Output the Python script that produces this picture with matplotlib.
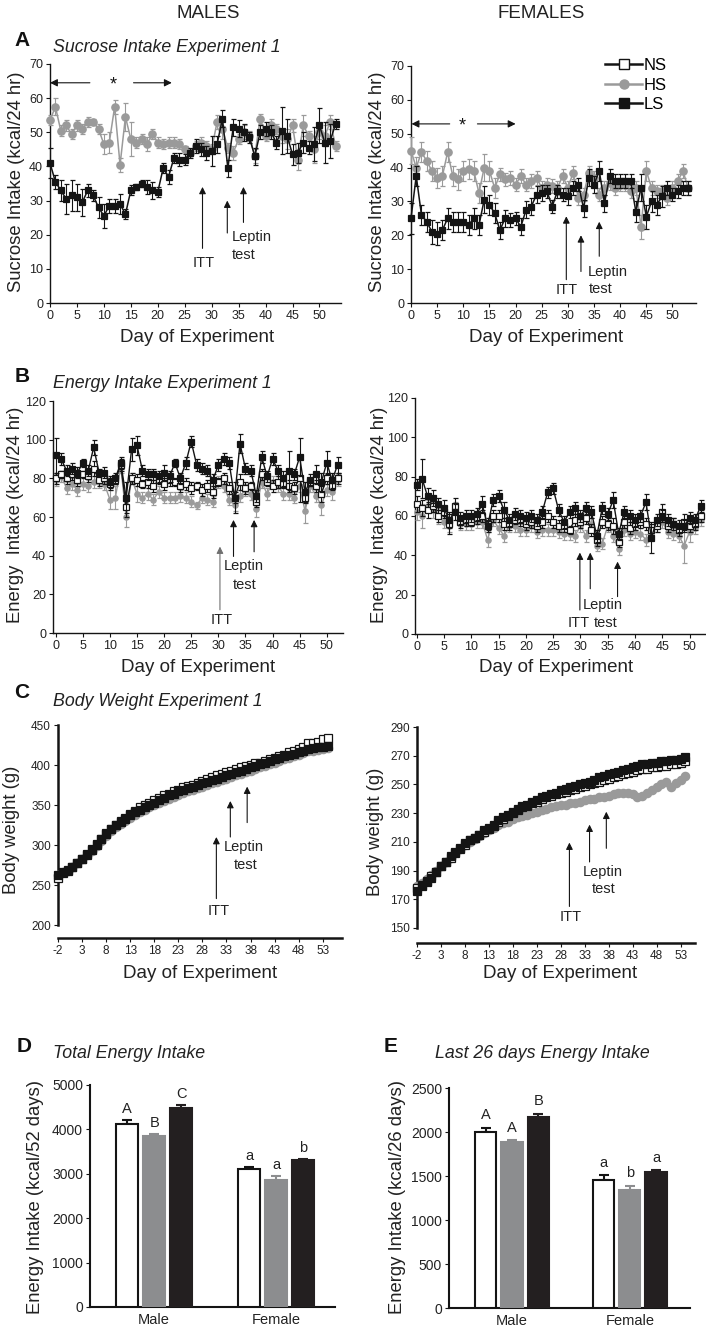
import matplotlib
matplotlib.use("Agg")
import matplotlib.pyplot as plt
from matplotlib.lines import Line2D
import numpy as np

plt.rcParams['font.family'] = ['Liberation Sans', 'DejaVu Sans']
plt.rcParams['axes.unicode_minus'] = False

W, H = 706, 1331
GRAY = '#9a9a9a'
BARGRAY = '#8c8d8f'
BLACK = '#141414'
TXT = '#222222'

# ---------------- data ----------------
# A: sucrose intake (kcal/24 hr), days 0..53
days_a = np.arange(0, 54)
suc_m_hs = [53.5, 57.5, 50.5, 52, 49.5, 52, 51, 53, 53, 51,
            46.5, 47, 57.5, 40.5, 54.5, 48, 47, 48, 46.5, 49.5,
            47, 46.5, 47, 47, 46.5, 45, 44, 46, 47, 46,
            45, 53, 51, 45.5, 44, 48, 50, 49, 43, 54,
            49, 52, 51, 49, 48, 52, 42, 52, 49, 45,
            50, 49, 53, 46]
suc_m_hs_err = [1.5, 2.5, 1.5, 1.5, 1.5, 1.5, 1.5, 1.5, 1, 1.5,
                3, 3, 2, 2, 4, 5, 1.5, 1.5, 2, 1.5,
                1.5, 1.5, 1.5, 1.5, 1.5, 1, 1, 1.5, 1.5, 1.5,
                1.5, 2, 3, 1.5, 2, 1.5, 2, 1.5, 2, 1.5,
                1.5, 2, 1.5, 2, 3, 2, 3, 3, 1.5, 4,
                2, 3, 2, 1.5]
suc_m_ls = [41, 35.5, 33, 30.5, 31.5, 31, 29.5, 33, 31.5, 28,
            25.5, 28.5, 28.5, 29, 26, 33, 34, 35, 34, 33,
            32.5, 39.5, 37, 42.5, 42, 42, 44, 46, 45, 44,
            44.5, 46.5, 54, 39.5, 51.5, 51, 50, 48.5, 43, 50,
            51, 50, 47, 50.5, 49, 43.5, 44, 47, 45.5, 46.5,
            52, 47, 47.5, 52.5]
suc_m_ls_err = [4.5, 2, 3, 4.5, 4.5, 4, 4, 2, 1.5, 3,
                3.5, 2, 2, 3, 1.5, 1.5, 1, 1, 2, 2.5,
                1.5, 1.5, 2, 1.5, 2, 1.5, 1.5, 2, 2, 2,
                4.5, 2.5, 2.5, 2.5, 2.5, 2.5, 2.5, 1.5, 2.5, 2,
                2, 2, 2, 7, 5, 3, 3, 3, 2, 5,
                5, 6, 5, 1.5]
suc_f_hs = [45, 40, 44.5, 42, 39, 37, 37.5, 44.5, 37.5, 36.5,
            39, 39.5, 39, 32.5, 40, 39, 34, 38, 36.5, 37,
            35, 37.5, 35, 36, 37, 34, 35, 34.5, 34, 37.5,
            34, 38.5, 31, 32, 38.5, 37, 32, 34, 35.5, 34,
            35, 35, 33, 34, 22.5, 39, 34, 33, 33, 31,
            34, 36, 39, 34]
suc_f_hs_err = [4, 3, 3, 3, 3, 3, 3, 3, 3, 3,
                3, 3, 3, 3, 4, 3, 3, 2, 2, 2,
                2, 2, 2, 2, 2, 2, 2, 2, 2, 2,
                2, 2, 2, 2, 2, 2, 2, 2, 2, 2,
                2, 2, 2, 2, 3.5, 3, 2, 2, 2, 2,
                2, 2, 2, 2]
suc_f_ls = [25, 37.5, 26, 24, 21, 20.5, 21.5, 25, 24, 24,
            24, 23, 25, 23, 30.5, 29, 26.5, 21.5, 25, 24.5,
            25, 22.5, 27.5, 28.5, 32, 32.5, 33, 28.5, 33, 32,
            31.5, 34, 35, 28, 37, 35, 39, 29.5, 37.5, 36,
            36, 36, 36, 27, 34, 25.5, 30, 29, 31.5, 34,
            32, 33, 34, 34]
suc_f_ls_err = [4.5, 3, 3, 3, 3.5, 3.5, 3, 3, 3, 3,
                3, 3, 3, 3, 4, 3, 3, 2.5, 2.5, 2,
                2, 2.5, 2.5, 2.5, 2.5, 2.5, 2, 2, 2, 2,
                2.5, 2, 2, 2.5, 2.5, 2.5, 3, 2.5, 2, 2,
                2, 2, 2, 3, 4, 3.5, 3, 3, 3, 2,
                2, 2, 2, 2]

# B: energy intake (kcal/24 hr), days 0..52
days_b = np.arange(0, 53)
en_m_ls = [92, 90, 84, 85, 83, 88, 84, 96, 83, 83,
           78, 80, 88, 70, 95, 97, 84, 82, 82, 81,
           83, 81, 88, 80, 88, 99, 87, 85, 84, 79,
           87, 90, 88, 70, 98, 85, 84, 71, 91, 81,
           90, 84, 80, 84, 82, 91, 73, 79, 82, 78,
           88, 79, 87]
en_m_ls_err = [9, 3, 3, 3, 3, 2, 3, 4, 2, 3,
               3, 3, 3, 8, 6, 5, 3, 3, 3, 3,
               4, 3, 2, 3, 3, 3, 3, 3, 3, 3,
               3, 3, 3, 8, 5, 3, 3, 3, 3, 3,
               3, 3, 4, 10, 3, 10, 5, 3, 5, 5,
               6, 4, 4]
en_m_ns = [80, 82, 80, 82, 79, 82, 81, 85, 79, 80,
           77, 79, 87, 65, 80, 79, 77, 78, 76, 79,
           77, 79, 78, 76, 77, 75, 76, 74, 76, 73,
           78, 80, 75, 70, 78, 75, 76, 68, 82, 78,
           76, 78, 77, 76, 75, 80, 70, 78, 76, 72,
           80, 76, 80]
en_m_ns_err = [3, 2, 3, 3, 3, 2, 3, 4, 3, 3,
               3, 2, 3, 5, 3, 3, 2, 3, 3, 2,
               3, 3, 2, 3, 3, 3, 2, 3, 3, 3,
               2, 3, 3, 3, 4, 3, 2, 3, 3, 2,
               3, 3, 2, 3, 3, 12, 3, 2, 3, 4,
               3, 2, 3]
en_m_hs = [79, 81, 75, 77, 74, 77, 76, 78, 78, 77,
           69, 70, 86, 60, 80, 72, 70, 72, 69, 73,
           70, 70, 70, 71, 70, 68, 66, 70, 69, 68,
           78, 76, 69, 66, 71, 74, 72, 64, 78, 72,
           78, 76, 72, 72, 70, 76, 63, 76, 71, 66,
           74, 73, 79]
en_m_hs_err = [3, 3, 3, 3, 3, 3, 3, 3, 3, 3,
               5, 6, 3, 5, 3, 4, 3, 3, 3, 3,
               3, 3, 3, 3, 3, 3, 2, 3, 3, 3,
               3, 3, 3, 3, 3, 3, 3, 4, 3, 3,
               3, 3, 3, 3, 3, 3, 6, 3, 3, 5,
               3, 4, 3]
en_f_ls = [76, 79, 70, 69, 66, 64, 58, 62, 59, 60,
           60, 61, 66, 55, 68, 70, 63, 58, 61, 60,
           59, 60, 58, 62, 72, 74, 63, 57, 62, 64,
           60, 64, 62, 50, 64, 61, 68, 51, 62, 60,
           58, 60, 67, 49, 58, 60, 58, 56, 55, 55,
           59, 58, 65]
en_f_ls_err = [3, 10, 4, 4, 3, 4, 4, 4, 3, 3,
               3, 3, 4, 3, 3, 3, 4, 3, 3, 3,
               3, 3, 3, 3, 3, 3, 3, 3, 3, 3,
               3, 3, 3, 3, 3, 3, 4, 3, 3, 3,
               3, 3, 4, 8, 3, 3, 3, 3, 3, 3,
               3, 3, 3]
en_f_ns = [66, 64, 63, 65, 60, 62, 56, 65, 57, 58,
           57, 59, 60, 56, 60, 60, 56, 56, 58, 58,
           56, 57, 55, 57, 60, 57, 55, 55, 53, 58,
           57, 59, 53, 48, 57, 56, 55, 47, 57, 54,
           56, 57, 56, 53, 55, 62, 55, 56, 53, 57,
           55, 56, 60]
en_f_ns_err = [4, 4, 4, 3, 3, 3, 5, 4, 3, 3,
               2, 3, 3, 3, 3, 3, 3, 3, 2, 3,
               3, 3, 3, 3, 3, 3, 3, 3, 2, 3,
               3, 3, 3, 3, 3, 3, 4, 3, 3, 3,
               3, 3, 3, 3, 3, 4, 3, 3, 3, 4,
               3, 3, 3]
en_f_hs = [62, 60, 65, 63, 60, 57, 55, 64, 56, 56,
           56, 57, 57, 48, 58, 54, 50, 55, 55, 53,
           53, 55, 52, 53, 53, 53, 52, 51, 51, 50,
           55, 50, 56, 45, 46, 55, 50, 43, 53, 51,
           52, 51, 48, 51, 55, 57, 52, 51, 50, 45,
           52, 54, 58]
en_f_hs_err = [4, 6, 3, 4, 4, 3, 3, 3, 3, 3,
               3, 3, 3, 4, 3, 3, 3, 3, 3, 3,
               3, 3, 3, 3, 3, 3, 3, 3, 3, 3,
               3, 3, 3, 3, 3, 3, 3, 3, 3, 3,
               3, 3, 3, 3, 3, 3, 3, 3, 3, 9,
               5, 3, 3]

# C: body weight (g), days -2..54
days_c = np.arange(-2, 55)
bw_m_ls = [262, 266, 269, 273, 278, 283, 289, 295, 301, 308,
           315, 320, 325, 329, 333, 338, 341, 344, 347, 350,
           353, 356, 359, 362, 364, 367, 369, 371, 373, 375,
           377, 379, 381, 383, 385, 387, 389, 391, 393, 395,
           397, 399, 401, 403, 405, 407, 409, 411, 413, 414,
           416, 418, 420, 421, 422, 423, 424]
bw_m_ns = [259, 265, 268, 272, 277, 282, 288, 294, 300, 307,
           314, 320, 325, 330, 334, 339, 343, 347, 350, 353,
           356, 359, 362, 364, 367, 369, 372, 374, 375, 378,
           380, 383, 385, 387, 389, 391, 393, 395, 397, 399,
           400, 402, 403, 405, 407, 409, 411, 413, 416, 418,
           420, 423, 428, 427, 429, 432, 434]
bw_m_hs = [263, 266, 268, 272, 277, 282, 287, 293, 299, 305,
           311, 317, 322, 326, 330, 334, 338, 341, 344, 347,
           350, 353, 355, 358, 360, 362, 365, 367, 369, 371,
           373, 375, 377, 379, 381, 383, 385, 387, 389, 391,
           393, 395, 397, 399, 401, 403, 405, 407, 409, 411,
           413, 415, 417, 418, 419, 420, 421]
bw_f_ls = [176, 179, 182, 185, 189, 193, 196, 200, 203, 206,
           209, 211, 213, 215, 218, 220, 222, 225, 227, 229,
           231, 233, 235, 236, 238, 239, 241, 242, 243, 244,
           246, 247, 248, 249, 250, 251, 252, 253, 255, 256,
           257, 258, 259, 260, 261, 262, 263, 264, 264, 265,
           265, 266, 266, 267, 267, 268, 269]
bw_f_ns = [178, 180, 183, 186, 189, 193, 196, 199, 202, 205,
           208, 211, 213, 215, 217, 219, 221, 224, 226, 228,
           230, 232, 234, 235, 237, 238, 240, 241, 242, 243,
           244, 245, 246, 247, 248, 249, 250, 251, 252, 253,
           254, 255, 256, 257, 258, 259, 260, 261, 261, 262,
           262, 263, 263, 264, 264, 265, 266]
bw_f_hs = [179, 181, 184, 187, 190, 193, 196, 199, 202, 205,
           208, 210, 212, 214, 216, 218, 220, 222, 223, 224,
           226, 227, 228, 229, 230, 231, 232, 233, 234, 235,
           236, 236, 237, 237, 238, 239, 240, 240, 241, 241,
           242, 243, 244, 244, 244, 243, 241, 242, 244, 246,
           248, 250, 252, 248, 251, 253, 256]

# D / E: bar charts
groups = ['Male', 'Female']
total_ns = [4130, 3100]
total_hs = [3860, 2850]
total_ls = [4480, 3300]
total_ns_err = [80, 60]
total_hs_err = [40, 90]
total_ls_err = [60, 40]
total_letters = [['A', 'B', 'C'], ['a', 'a', 'b']]
last_ns = [2000, 1460]
last_hs = [1890, 1340]
last_ls = [2170, 1550]
last_ns_err = [50, 50]
last_hs_err = [20, 50]
last_ls_err = [40, 20]
last_letters = [['A', 'A', 'B'], ['a', 'b', 'a']]

# ---------------- figure ----------------
fig = plt.figure(figsize=(W / 100, H / 100), dpi=100)


def ax_px(l, t, r, b):
    return fig.add_axes([l / W, 1 - b / H, (r - l) / W, (b - t) / H])


def ftxt(x, y, s, **kw):
    kw.setdefault('color', TXT)
    fig.text(x / W, 1 - y / H, s, **kw)


def style(ax, lw=1.0, tsize=9):
    for s in ['top', 'right']:
        ax.spines[s].set_visible(False)
    for s in ['left', 'bottom']:
        ax.spines[s].set_linewidth(lw)
        ax.spines[s].set_color(BLACK)
    ax.tick_params(direction='out', length=3, width=0.8, labelsize=tsize,
                   labelcolor=TXT, color=BLACK, pad=2)


STY = {
    'NS': dict(marker='s', color=BLACK, mfc='white', mec=BLACK),
    'HS': dict(marker='o', color=GRAY, mfc=GRAY, mec=GRAY),
    'LS': dict(marker='s', color=BLACK, mfc=BLACK, mec=BLACK),
}


def series(ax, x, y, err, kind, ms, lw, z):
    st = STY[kind]
    ax.errorbar(x, y, yerr=err, color=st['color'], ecolor=st['color'],
                elinewidth=0.8, capsize=1.8, capthick=0.8, marker=st['marker'],
                ms=ms, mfc=st['mfc'], mec=st['mec'], mew=0.9, lw=lw,
                clip_on=False, zorder=z)


def arrow(ax, x, y0, y1, color=BLACK):
    ax.annotate('', xy=(x, y1), xytext=(x, y0),
                arrowprops=dict(arrowstyle='-|>', color=color, lw=0.8,
                                mutation_scale=10, shrinkA=0, shrinkB=0),
                annotation_clip=False, zorder=6)


def harrow(ax, x0, x1, y):
    ax.annotate('', xy=(x1, y), xytext=(x0, y),
                arrowprops=dict(arrowstyle='-|>', color=BLACK, lw=0.8,
                                mutation_scale=11, shrinkA=0, shrinkB=0),
                annotation_clip=False)


def ann(ax, x, y, s, ha='center'):
    ax.text(x, y, s, fontsize=10.5, color=TXT, ha=ha, va='center', zorder=6)


# ---- A male ----
ax = ax_px(50, 64, 341, 303)
style(ax)
series(ax, days_a, suc_m_hs, suc_m_hs_err, 'HS', 5.3, 1.1, 3)
series(ax, days_a, suc_m_ls, suc_m_ls_err, 'LS', 4.8, 1.1, 4)
ax.set_xlim(0, 54)
ax.set_ylim(0, 70)
ax.set_xticks(range(0, 51, 5))
ax.set_yticks(range(0, 71, 10))
harrow(ax, 7.4, 0, 64.5)
harrow(ax, 15.5, 22.6, 64.5)
ax.text(11.8, 64.0, '*', fontsize=13, ha='center', va='center', color=BLACK)
arrow(ax, 28.3, 16, 34)
arrow(ax, 32.9, 20.5, 30)
arrow(ax, 35.9, 23.6, 34)
ann(ax, 28.6, 11.7, 'ITT')
ann(ax, 33.8, 19.3, 'Leptin', ha='left')
ann(ax, 33.8, 14.2, 'test', ha='left')

# ---- A female ----
ax = ax_px(411, 66, 696, 303)
style(ax)
series(ax, days_a, suc_f_hs, suc_f_hs_err, 'HS', 5.3, 1.1, 3)
series(ax, days_a, suc_f_ls, suc_f_ls_err, 'LS', 4.8, 1.1, 4)
ax.set_xlim(0, 54.5)
ax.set_ylim(0, 70)
ax.set_xticks(range(0, 51, 5))
ax.set_yticks(range(0, 71, 10))
harrow(ax, 7.4, 0.1, 52.9)
harrow(ax, 12.7, 20, 52.9)
ax.text(9.8, 52.4, '*', fontsize=13, ha='center', va='center', color=BLACK)
arrow(ax, 29.7, 6.9, 25.6)
arrow(ax, 32.5, 9.3, 20)
arrow(ax, 36, 13.8, 24)
ann(ax, 29.7, 3.9, 'ITT')
ann(ax, 33.8, 9.3, 'Leptin', ha='left')
ann(ax, 33.9, 4.1, 'test', ha='left')

handles = [Line2D([0], [0], lw=1.8, ms=6.5, mew=1, **STY[k]) for k in ['NS', 'HS', 'LS']]
fig.legend(handles, ['NS', 'HS', 'LS'], loc='upper left',
           bbox_to_anchor=(597 / W, 1 - 50 / H), frameon=False, fontsize=12,
           handlelength=2.2, handletextpad=0.1, labelspacing=0.25, borderpad=0)

# ---- B male ----
ax = ax_px(53, 401, 343, 633)
style(ax)
series(ax, days_b, en_m_hs, en_m_hs_err, 'HS', 3.8, 1.0, 3)
series(ax, days_b, en_m_ns, en_m_ns_err, 'NS', 3.8, 1.0, 4)
series(ax, days_b, en_m_ls, en_m_ls_err, 'LS', 3.8, 1.0, 5)
ax.set_xlim(-0.5, 53)
ax.set_ylim(0, 120)
ax.set_xticks(range(0, 51, 5))
ax.set_yticks(range(0, 121, 20))
arrow(ax, 30.3, 12, 44.7, color='#707070')
arrow(ax, 32.8, 39.6, 58.5)
arrow(ax, 36.6, 42, 58.5)
ann(ax, 30.6, 6.9, 'ITT')
ann(ax, 34.7, 34.4, 'Leptin')
ann(ax, 34.8, 25, 'test')

# ---- B female ----
ax = ax_px(415, 398, 706, 634)
style(ax)
series(ax, days_b, en_f_hs, en_f_hs_err, 'HS', 3.8, 1.0, 3)
series(ax, days_b, en_f_ns, en_f_ns_err, 'NS', 3.8, 1.0, 4)
series(ax, days_b, en_f_ls, en_f_ls_err, 'LS', 3.8, 1.0, 5)
ax.set_xlim(-0.3, 53)
ax.set_ylim(0, 120)
ax.set_xticks(range(0, 51, 5))
ax.set_yticks(range(0, 121, 20))
arrow(ax, 29.9, 12.2, 41.4)
arrow(ax, 31.8, 23, 41.4)
arrow(ax, 36.8, 19, 36.8)
ann(ax, 29.6, 5.4, 'ITT')
ann(ax, 34.1, 14.8, 'Leptin')
ann(ax, 34.6, 5.4, 'test')

# ---- C male ----
ax = ax_px(58, 725, 342, 925)
style(ax, lw=1.8, tsize=8.5)
ax.spines['bottom'].set_position(('outward', 9.5))
series(ax, days_c, bw_m_hs, None, 'HS', 6, 1.2, 3)
series(ax, days_c, bw_m_ns, None, 'NS', 6, 1.2, 4)
series(ax, days_c, bw_m_ls, None, 'LS', 6, 1.2, 5)
ax.set_xlim(-2, 57)
ax.set_ylim(200, 450)
ax.set_xticks(range(-2, 54, 5))
ax.set_yticks(range(200, 451, 50))
arrow(ax, 30.9, 233, 310)
arrow(ax, 33.8, 310, 355)
arrow(ax, 37.3, 328, 373)
ann(ax, 31.4, 218, 'ITT')
ann(ax, 36.6, 298, 'Leptin')
ann(ax, 36.9, 275, 'test')

# ---- C female ----
ax = ax_px(417, 727, 695, 928)
style(ax, lw=1.8, tsize=8.5)
ax.spines['bottom'].set_position(('outward', 10.5))
series(ax, days_c, bw_f_hs, None, 'HS', 6, 1.2, 3)
series(ax, days_c, bw_f_ns, None, 'NS', 6, 1.2, 4)
series(ax, days_c, bw_f_ls, None, 'LS', 6, 1.2, 5)
ax.set_xlim(-2, 56)
ax.set_ylim(150, 290)
ax.set_xticks(range(-2, 54, 5))
ax.set_yticks(range(150, 291, 20))
arrow(ax, 29.8, 165, 209.5)
arrow(ax, 34, 196, 222)
arrow(ax, 37.5, 205.5, 231)
ann(ax, 30, 158, 'ITT')
ann(ax, 36.8, 189, 'Leptin')
ann(ax, 37, 177, 'test')


# ---- bars ----
def bars(ax, ns, hs, ls, ns_e, hs_e, ls_e, letters, ymax, off):
    x = np.arange(len(groups))
    wd, dx = 0.18, 0.222
    specs = [(ns, ns_e, 'white', BLACK, -dx),
             (hs, hs_e, BARGRAY, BARGRAY, 0),
             (ls, ls_e, '#231f20', '#231f20', dx)]
    for i, (vals, errs, fc, ec, o) in enumerate(specs):
        ax.bar(x + o, vals, wd, color=fc, edgecolor=ec, lw=1.5, zorder=3)
        ax.errorbar(x + o, vals, yerr=[np.zeros(len(errs)), errs], fmt='none',
                    ecolor=ec, elinewidth=1.5, capsize=3.5, capthick=1.5, zorder=2)
        for j in range(len(groups)):
            ax.text(x[j] + o, vals[j] + errs[j] + off, letters[j][i], fontsize=10.5,
                    ha='center', va='bottom', color=TXT)
    style(ax, lw=1.5, tsize=10)
    ax.set_ylim(0, ymax)
    ax.set_xticks(x)
    ax.set_xticklabels(groups, fontsize=10.5)
    ax.tick_params(axis='x', length=0, pad=4)


ax = ax_px(90, 1085, 335, 1307)
bars(ax, total_ns, total_hs, total_ls, total_ns_err, total_hs_err, total_ls_err,
     total_letters, 5000, 90)
ax.set_xlim(-0.525, 1.48)
ax.set_yticks(range(0, 5001, 1000))

ax = ax_px(449, 1088, 690, 1308)
bars(ax, last_ns, last_hs, last_ls, last_ns_err, last_hs_err, last_ls_err,
     last_letters, 2500, 60)
ax.set_xlim(-0.534, 1.51)
ax.set_yticks(range(0, 2501, 500))

# ---------------- text ----------------
ftxt(208, 13, 'MALES', fontsize=13.5, ha='center', va='center')
ftxt(541, 13, 'FEMALES', fontsize=13.5, ha='center', va='center')

for lab, (x, y) in zip('ABCDE', [(22, 41), (22, 377), (22, 693), (24, 1047), (391, 1046)]):
    ftxt(x, y, lab, fontsize=15, fontweight='bold', ha='center', va='center', color='#111111')

ttl = dict(fontsize=12.8, style='italic', ha='left', va='center')
ftxt(53, 47, 'Sucrose Intake Experiment 1', **ttl)
ftxt(53, 383, 'Energy Intake Experiment 1', **ttl)
ftxt(53, 702, 'Body Weight Experiment 1', **ttl)
ftxt(53, 1053, 'Total Energy Intake', **ttl)
ftxt(435, 1053, 'Last 26 days Energy Intake', **ttl)

xl = dict(fontsize=13.5, ha='center', va='center')
ftxt(197, 338, 'Day of Experiment', **xl)
ftxt(546, 338, 'Day of Experiment', **xl)
ftxt(198, 667, 'Day of Experiment', **xl)
ftxt(556, 667, 'Day of Experiment', **xl)
ftxt(200, 973, 'Day of Experiment', **xl)
ftxt(560, 973, 'Day of Experiment', **xl)

yl = dict(fontsize=13.3, ha='center', va='center', rotation=90)
ftxt(17, 182, 'Sucrose Intake (kcal/24 hr)', **yl)
ftxt(378, 182, 'Sucrose Intake (kcal/24 hr)', **yl)
ftxt(16, 515, 'Energy  Intake (kcal/24 hr)', **yl)
ftxt(379, 515, 'Energy  Intake (kcal/24 hr)', **yl)
ftxt(12, 830, 'Body weight (g)', **yl)
ftxt(375, 832, 'Body weight (g)', **yl)
ftxt(36, 1197, 'Energy Intake (kcal/52 days)', **yl)
ftxt(397, 1197, 'Energy Intake (kcal/26 days)', **yl)

fig.savefig('out.png', dpi=100, facecolor='white')
